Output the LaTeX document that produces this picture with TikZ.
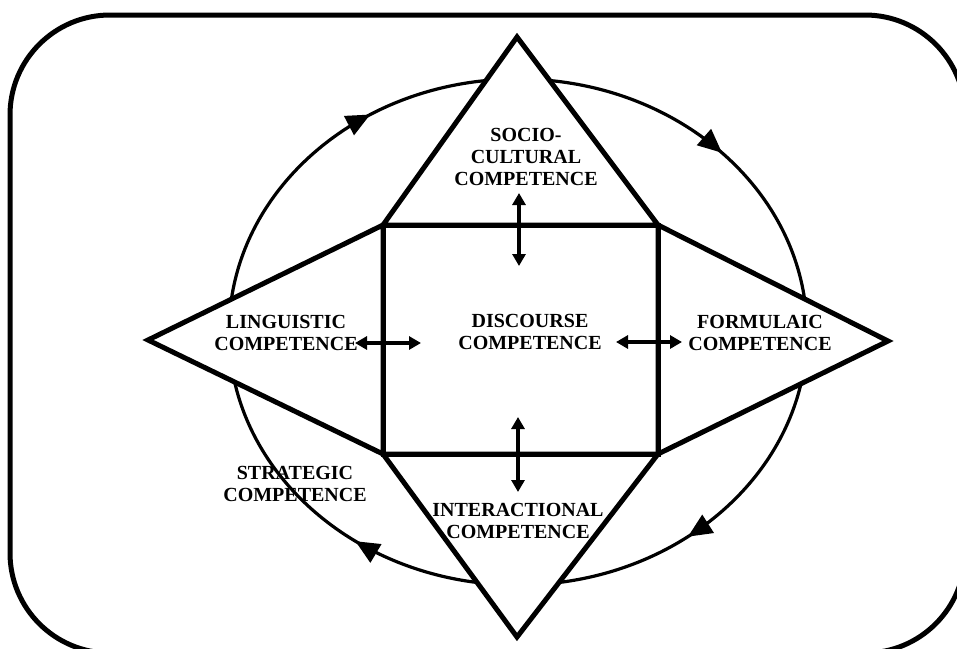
\documentclass[tikz,border=0pt]{standalone}
\usepackage{fontspec}
\setmainfont{Liberation Serif}
\usetikzlibrary{arrows.meta,decorations.markings}

\begin{document}
\begin{tikzpicture}[x=1pt,y=-1pt,
  lbl/.style={font=\fontsize{20}{22}\selectfont\bfseries, align=center, inner sep=0pt},
  figline/.style={line width=5pt, line join=miter, fill=white},
  dblarrow/.style={line width=3.4pt,
    {Triangle[length=12pt,width=13pt]}-{Triangle[length=12pt,width=13pt]}},
  flowcycle/.style={line width=3.2pt, postaction={decorate}, decoration={markings,
    mark=at position 0.145 with {\arrow{Triangle[length=24pt,width=21pt]}},
    mark=at position 0.350 with {\arrow{Triangle[length=24pt,width=21pt]}},
    mark=at position 0.660 with {\arrow{Triangle[length=24pt,width=21pt]}},
    mark=at position 0.880 with {\arrow{Triangle[length=24pt,width=21pt]}}}}]

\useasboundingbox (0,0) rectangle (957,648);
\clip (0,0) rectangle (957,648);

% outer rounded frame
\draw[line width=5pt, rounded corners=100pt] (10,15) rectangle (965,653);

% cycle of competences
\draw[flowcycle] (518,332) ellipse [x radius=289, y radius=253];

% square corners and triangle apexes
\coordinate (sqtl) at (383,225);
\coordinate (sqtr) at (658,225);
\coordinate (sqbl) at (383,454);
\coordinate (sqbr) at (658,454);
\coordinate (apn) at (517,37);
\coordinate (aps) at (517,637);
\coordinate (apw) at (148,340);
\coordinate (ape) at (888,341);

% four triangles
\draw[figline] (sqtl) -- (apn) -- (sqtr) -- cycle;
\draw[figline] (sqbl) -- (aps) -- (sqbr) -- cycle;
\draw[figline] (sqtl) -- (apw) -- (sqbl) -- cycle;
\draw[figline] (sqtr) -- (ape) -- (sqbr) -- cycle;

% central square
\draw[figline, fill=none] (sqtl) rectangle (sqbr);

% labels
\node[lbl] (soc) at (526,157) {SOCIO-\\CULTURAL\\COMPETENCE};
\node[lbl] (ling) at (286,333) {LINGUISTIC\\COMPETENCE};
\node[lbl] (disc) at (530,332) {DISCOURSE\\COMPETENCE};
\node[lbl] (form) at (760,333) {FORMULAIC\\COMPETENCE};
\node[lbl] (strat) at (295,484) {STRATEGIC\\COMPETENCE};
\node[lbl] (inter) at (518,521) {INTERACTIONAL\\COMPETENCE};

% ends of the double arrows
\coordinate (na) at (519,193);
\coordinate (nb) at (519,266);
\coordinate (wa) at (355,343);
\coordinate (wb) at (421,343);
\coordinate (ea) at (616,342);
\coordinate (eb) at (682,342);
\coordinate (sa) at (518,417);
\coordinate (sb) at (518,492);

\draw[dblarrow] (na) -- (nb);
\draw[dblarrow] (wa) -- (wb);
\draw[dblarrow] (ea) -- (eb);
\draw[dblarrow] (sa) -- (sb);

\end{tikzpicture}
\end{document}
